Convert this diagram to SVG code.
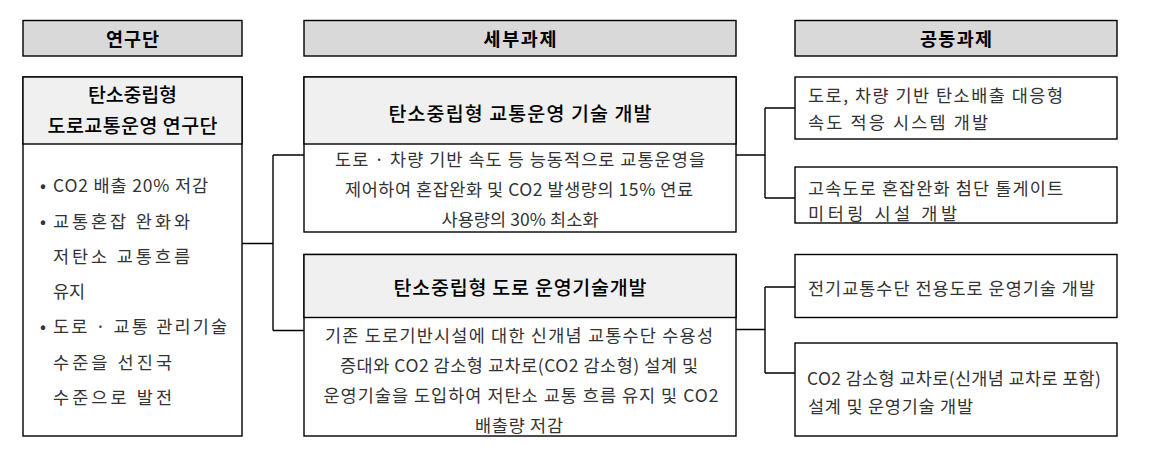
<svg xmlns="http://www.w3.org/2000/svg" width="1152" height="449" viewBox="0 0 1152 449">
<style>
.box{fill:#fff;stroke:#000;stroke-width:1.4}
.hdr{fill:#d9d9d9;stroke:#000;stroke-width:1.4}
.sub{fill:#f0f0f0;stroke:#000;stroke-width:1.4}
.ln{fill:none;stroke:#000;stroke-width:1.4}
text{font-family:"Noto Sans CJK KR","Noto Sans",sans-serif;dominant-baseline:central}
.h{font-size:18.5px;font-weight:bold;fill:#000;text-anchor:middle}
.t{font-size:19.5px;font-weight:500;fill:#000;text-anchor:middle}
.b{font-size:17.5px;fill:#333}
.c{text-anchor:middle}
</style>
<rect width="1152" height="449" fill="#fff"/>
<g id="header-yeongudan"><rect class="hdr" x="23" y="20.5" width="219" height="35.5"/><text class="h" x="132.5" y="38" textLength="53" lengthAdjust="spacing">연구단</text></g>
<g id="header-sebu"><rect class="hdr" x="304" y="20.5" width="432" height="35.5"/><text class="h" x="520" y="38" textLength="73" lengthAdjust="spacing">세부과제</text></g>
<g id="header-gongdong"><rect class="hdr" x="795" y="20.5" width="322" height="35.5"/><text class="h" x="956" y="38" textLength="72" lengthAdjust="spacing">공동과제</text></g>

<g id="node-left">
<rect class="box" x="23" y="77" width="219" height="359"/>
<rect class="sub" x="23" y="77" width="219" height="67"/>
<text class="t" x="132.5" y="93" textLength="89" lengthAdjust="spacing">탄소중립형</text>
<text class="t" x="132.5" y="124.5" textLength="170" lengthAdjust="spacing">도로교통운영 연구단</text>
<text class="b" x="40" y="184">•</text><text class="b" x="53" y="184" textLength="155" lengthAdjust="spacing">CO2 배출 20% 저감</text>
<text class="b" x="40" y="220">•</text><text class="b" x="53" y="220" textLength="137" lengthAdjust="spacing">교통혼잡 완화와</text>
<text class="b" x="53" y="255" textLength="137" lengthAdjust="spacing">저탄소 교통흐름</text>
<text class="b" x="53" y="290">유지</text>
<text class="b" x="40" y="325">•</text><text class="b" x="53" y="325" textLength="174" lengthAdjust="spacing">도로 · 교통 관리기술</text>
<text class="b" x="53" y="361" textLength="119" lengthAdjust="spacing">수준을 선진국</text>
<text class="b" x="53" y="396" textLength="119" lengthAdjust="spacing">수준으로 발전</text>
</g>

<g id="node-mid1">
<rect class="box" x="304" y="77" width="432" height="155"/>
<rect class="sub" x="304" y="77" width="432" height="67"/>
<text class="t" x="520" y="112" textLength="263" lengthAdjust="spacing">탄소중립형 교통운영 기술 개발</text>
<text class="b c" x="520" y="158" textLength="370" lengthAdjust="spacing">도로 · 차량 기반 속도 등 능동적으로 교통운영을</text>
<text class="b c" x="519" y="188" textLength="348" lengthAdjust="spacing">제어하여 혼잡완화 및 CO2 발생량의 15% 연료</text>
<text class="b c" x="520" y="218" textLength="157" lengthAdjust="spacing">사용량의 30% 최소화</text>
</g>

<g id="node-mid2">
<rect class="box" x="304" y="254.5" width="432" height="181.5"/>
<rect class="sub" x="304" y="254.5" width="432" height="63"/>
<text class="t" x="520" y="286" textLength="253" lengthAdjust="spacing">탄소중립형 도로 운영기술개발</text>
<text class="b c" x="519" y="334" textLength="388" lengthAdjust="spacing">기존 도로기반시설에 대한 신개념 교통수단 수용성</text>
<text class="b c" x="519" y="364" textLength="358" lengthAdjust="spacing">증대와 CO2 감소형 교차로(CO2 감소형) 설계 및</text>
<text class="b c" x="521" y="394" textLength="395" lengthAdjust="spacing">운영기술을 도입하여 저탄소 교통 흐름 유지 및 CO2</text>
<text class="b c" x="519" y="424" textLength="88" lengthAdjust="spacing">배출량 저감</text>
</g>

<g id="node-r1"><rect class="box" x="795" y="77" width="322" height="62"/>
<text class="b" x="808" y="94" textLength="255" lengthAdjust="spacing">도로, 차량 기반 탄소배출 대응형</text>
<text class="b" x="808" y="121" textLength="180" lengthAdjust="spacing">속도 적응 시스템 개발</text></g>
<g id="node-r2"><rect class="box" x="795" y="167" width="322" height="56"/>
<text class="b" x="808" y="187" textLength="255" lengthAdjust="spacing">고속도로 혼잡완화 첨단 톨게이트</text>
<text class="b" x="808" y="212.5" textLength="149" lengthAdjust="spacing">미터링 시설 개발</text></g>
<g id="node-r3"><rect class="box" x="795" y="254.5" width="322" height="63"/>
<text class="b" x="808" y="287" textLength="287" lengthAdjust="spacing">전기교통수단 전용도로 운영기술 개발</text></g>
<g id="node-r4"><rect class="box" x="795" y="343" width="322" height="93"/>
<text class="b" x="807" y="377" textLength="294" lengthAdjust="spacing">CO2 감소형 교차로(신개념 교차로 포함)</text>
<text class="b" x="808" y="405" textLength="165" lengthAdjust="spacing">설계 및 운영기술 개발</text></g>

<g id="connectors">
<path class="ln" d="M242 243.5H273M273 155V330.5M273 155H304M273 330.5H304"/>
<path class="ln" d="M736 155H765M765 108V198M765 108H795M765 198H795"/>
<path class="ln" d="M736 329.5H765M765 287V373M765 287H795M765 373H795"/>
</g>
</svg>
